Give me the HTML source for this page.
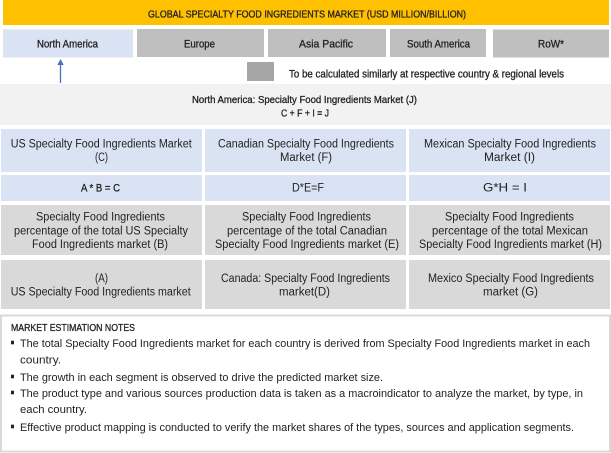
<!DOCTYPE html>
<html>
<head>
<meta charset="utf-8">
<style>
  html,body{margin:0;padding:0;background:#fff;}
  svg{display:block;}
  text{font-family:"Liberation Sans", Arial, sans-serif; fill:#222;}
  .b{stroke:#222;stroke-width:0.3px;}
</style>
</head>
<body>
<svg width="611" height="453" viewBox="0 0 611 453" xmlns="http://www.w3.org/2000/svg">
  <rect x="0" y="0" width="611" height="453" fill="#ffffff"/>

  <!-- Banner -->
  <rect x="3" y="0" width="606" height="25" fill="#FFC000"/>
  <text class="b" x="148" y="17.5" font-size="10" textLength="318" lengthAdjust="spacingAndGlyphs">GLOBAL SPECIALTY FOOD INGREDIENTS MARKET (USD MILLION/BILLION)</text>

  <!-- Region boxes -->
  <rect x="3" y="29.5" width="130" height="28" fill="#DAE3F3"/>
  <rect x="137" y="29" width="127" height="28" fill="#BFBFBF"/>
  <rect x="268" y="29" width="118" height="28" fill="#BFBFBF"/>
  <rect x="390" y="29" width="96" height="28" fill="#BFBFBF"/>
  <rect x="493" y="29.5" width="116" height="28" fill="#BFBFBF"/>
  <text class="b" x="37" y="47.5" font-size="10.8" textLength="61" lengthAdjust="spacingAndGlyphs">North America</text>
  <text class="b" x="184" y="47.5" font-size="10.8" textLength="31" lengthAdjust="spacingAndGlyphs">Europe</text>
  <text class="b" x="299" y="47.5" font-size="10.8" textLength="54" lengthAdjust="spacingAndGlyphs">Asia Pacific</text>
  <text class="b" x="407" y="47.5" font-size="10.8" textLength="63" lengthAdjust="spacingAndGlyphs">South America</text>
  <text class="b" x="538" y="47.5" font-size="10.8" textLength="26" lengthAdjust="spacingAndGlyphs">RoW*</text>

  <!-- Arrow -->
  <line x1="60.5" y1="64" x2="60.5" y2="83" stroke="#4472C4" stroke-width="1.3"/>
  <polygon points="57.3,65 63.7,65 60.5,59" fill="#4472C4"/>

  <!-- Legend -->
  <rect x="247" y="62" width="27" height="19" fill="#A6A6A6"/>
  <text class="b" x="289" y="77.3" font-size="10.8" textLength="275" lengthAdjust="spacingAndGlyphs">To be calculated similarly at respective country &amp; regional levels</text>

  <!-- Band -->
  <rect x="0" y="84" width="611" height="41" fill="#F2F2F2"/>
  <text class="b" x="192" y="103" font-size="10.5" textLength="225" lengthAdjust="spacingAndGlyphs">North America: Specialty Food Ingredients Market (J)</text>
  <text class="b" x="281" y="116.3" font-size="10.5" textLength="48" lengthAdjust="spacingAndGlyphs">C + F + I = J</text>

  <!-- Row 1 -->
  <rect x="1" y="129" width="201" height="43" fill="#DAE3F3"/>
  <rect x="205" y="129" width="201" height="43" fill="#DAE3F3"/>
  <rect x="409" y="129" width="201" height="43" fill="#DAE3F3"/>
  <!-- Row 2 -->
  <rect x="1" y="175" width="201" height="26" fill="#DAE3F3"/>
  <rect x="205" y="175" width="201" height="26" fill="#DAE3F3"/>
  <rect x="409" y="175" width="201" height="26" fill="#DAE3F3"/>
  <!-- Row 3 -->
  <rect x="1" y="205" width="201" height="50" fill="#D9D9D9"/>
  <rect x="205" y="205" width="201" height="50" fill="#D9D9D9"/>
  <rect x="409" y="205" width="201" height="50" fill="#D9D9D9"/>
  <!-- Row 4 -->
  <rect x="1" y="260" width="201" height="49" fill="#D9D9D9"/>
  <rect x="205" y="260" width="201" height="49" fill="#D9D9D9"/>
  <rect x="409" y="260" width="201" height="49" fill="#D9D9D9"/>

  <!-- Row 1 text -->
  <text x="10.7" y="147.3" font-size="11.5" textLength="181" lengthAdjust="spacingAndGlyphs">US Specialty Food Ingredients Market</text>
  <text x="95" y="161" font-size="11.5" textLength="13" lengthAdjust="spacingAndGlyphs">(C)</text>
  <text x="218" y="147.3" font-size="11.5" textLength="176" lengthAdjust="spacingAndGlyphs">Canadian Specialty Food Ingredients</text>
  <text x="280" y="161" font-size="11.5" textLength="52" lengthAdjust="spacingAndGlyphs">Market (F)</text>
  <text x="424" y="147.3" font-size="11.5" textLength="172" lengthAdjust="spacingAndGlyphs">Mexican Specialty Food Ingredients</text>
  <text x="484" y="161" font-size="11.5" textLength="51" lengthAdjust="spacingAndGlyphs">Market (I)</text>

  <!-- Row 2 text -->
  <text class="b" x="81" y="191.7" font-size="11" textLength="39" lengthAdjust="spacingAndGlyphs">A * B = C</text>
  <text x="292" y="191.7" font-size="11.5" textLength="32" lengthAdjust="spacingAndGlyphs">D*E=F</text>
  <text x="483" y="191.7" font-size="12" textLength="44" lengthAdjust="spacingAndGlyphs">G*H = I</text>

  <!-- Row 3 text -->
  <text x="36" y="220.3" font-size="11.5" textLength="129" lengthAdjust="spacingAndGlyphs">Specialty Food Ingredients</text>
  <text x="14" y="234.5" font-size="11.5" textLength="174" lengthAdjust="spacingAndGlyphs">percentage of the total US Specialty</text>
  <text x="32" y="248" font-size="11.5" textLength="136" lengthAdjust="spacingAndGlyphs">Food Ingredients market (B)</text>

  <text x="242" y="220.3" font-size="11.5" textLength="129" lengthAdjust="spacingAndGlyphs">Specialty Food Ingredients</text>
  <text x="227" y="234.5" font-size="11.5" textLength="160" lengthAdjust="spacingAndGlyphs">percentage of the total Canadian</text>
  <text x="215" y="248" font-size="11.5" textLength="184" lengthAdjust="spacingAndGlyphs">Specialty Food Ingredients market (E)</text>

  <text x="445" y="220.3" font-size="11.5" textLength="129" lengthAdjust="spacingAndGlyphs">Specialty Food Ingredients</text>
  <text x="432" y="234.5" font-size="11.5" textLength="156" lengthAdjust="spacingAndGlyphs">percentage of the total Mexican</text>
  <text x="419" y="248" font-size="11.5" textLength="183" lengthAdjust="spacingAndGlyphs">Specialty Food Ingredients market (H)</text>

  <!-- Row 4 text -->
  <text x="95" y="282" font-size="11.5" textLength="13" lengthAdjust="spacingAndGlyphs">(A)</text>
  <text x="10.7" y="295.7" font-size="11.5" textLength="180" lengthAdjust="spacingAndGlyphs">US Specialty Food Ingredients market</text>
  <text x="221" y="282" font-size="11.5" textLength="169" lengthAdjust="spacingAndGlyphs">Canada: Specialty Food Ingredients</text>
  <text x="279" y="295.7" font-size="11.5" textLength="51" lengthAdjust="spacingAndGlyphs">market(D)</text>
  <text x="428" y="282" font-size="11.5" textLength="166" lengthAdjust="spacingAndGlyphs">Mexico Specialty Food Ingredients</text>
  <text x="483" y="295.7" font-size="11.5" textLength="55" lengthAdjust="spacingAndGlyphs">market (G)</text>

  <!-- Notes box -->
  <rect x="1" y="315.5" width="609" height="136" fill="#ffffff" stroke="#D9D9D9" stroke-width="2"/>
  <text class="b" x="11" y="331" font-size="10.3" textLength="124" lengthAdjust="spacingAndGlyphs">MARKET ESTIMATION NOTES</text>

  <rect x="11" y="340.7" width="3" height="3.6" fill="#222"/>
  <text x="20" y="347" font-size="11.2" textLength="570" lengthAdjust="spacingAndGlyphs">The total Specialty Food Ingredients market for each country is derived from Specialty Food Ingredients market in each</text>
  <text x="20" y="363.5" font-size="11.2" textLength="41" lengthAdjust="spacingAndGlyphs">country.</text>

  <rect x="11" y="374.7" width="3" height="3.6" fill="#222"/>
  <text x="20" y="381" font-size="11.2" textLength="363" lengthAdjust="spacingAndGlyphs">The growth in each segment is observed to drive the predicted market size.</text>

  <rect x="11" y="390.7" width="3" height="3.6" fill="#222"/>
  <text x="20" y="397" font-size="11.2" textLength="563" lengthAdjust="spacingAndGlyphs">The product type and various sources production data is taken as a macroindicator to analyze the market, by type, in</text>
  <text x="20" y="413" font-size="11.2" textLength="67" lengthAdjust="spacingAndGlyphs">each country.</text>

  <rect x="11" y="424.7" width="3" height="3.6" fill="#222"/>
  <text x="20" y="431" font-size="11.2" textLength="554" lengthAdjust="spacingAndGlyphs">Effective product mapping is conducted to verify the market shares of the types, sources and application segments.</text>
</svg>
</body>
</html>
